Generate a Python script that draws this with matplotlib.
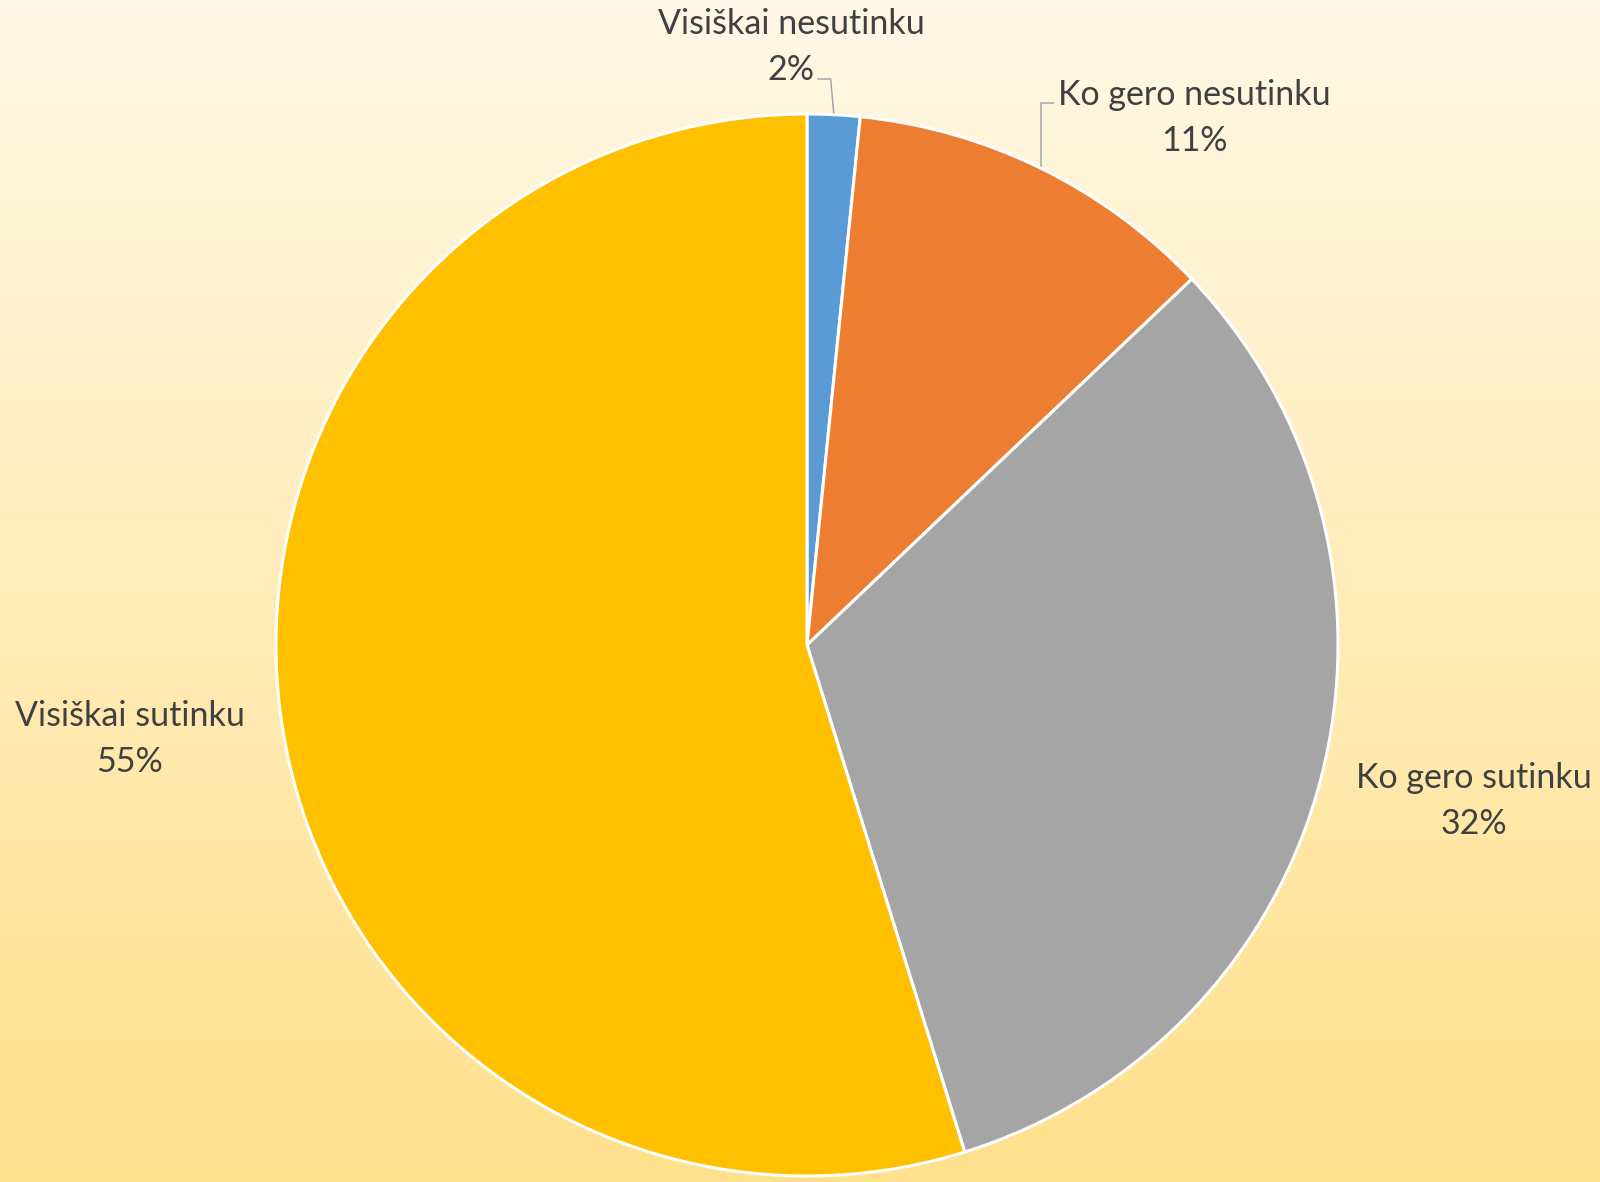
import numpy as np
import matplotlib
matplotlib.use("Agg")
import matplotlib.pyplot as plt
from matplotlib.colors import LinearSegmentedColormap

# data
labels = ["Visiškai nesutinku", "Ko gero nesutinku", "Ko gero sutinku", "Visiškai sutinku"]
shares = [1.6, 11.3, 32.3, 54.8]
pct_text = ["2%", "11%", "32%", "55%"]
colors = ["#5B9BD5", "#ED7D31", "#A5A5A5", "#FFC000"]

# layout (pixel coords, y up)
W, H = 1600, 1182
cx, cy, R = 807, 1182 - 645, 531
label_xy = [(791, 1182 - 24), (1194, 1182 - 95), (1474, 1182 - 778), (130, 1182 - 716)]
leader = [True, True, False, False]
TXT = "#404040"

plt.rcParams["font.family"] = ["Lato", "DejaVu Sans"]

fig = plt.figure(figsize=(16, 11.82), dpi=100)
ax = fig.add_axes([0, 0, 1, 1])

wedges, _ = ax.pie(shares, colors=colors, startangle=90, counterclock=False,
                   center=(cx, cy), radius=R,
                   wedgeprops=dict(edgecolor="white", linewidth=2.2))
for w in wedges:
    w.set_zorder(2)

ax.set_xlim(0, W); ax.set_ylim(0, H)
ax.set_aspect("auto")
ax.axis("off")

# background gradient: light cream at top -> soft yellow at bottom
grad = np.linspace(0, 1, 256).reshape(-1, 1)
cmap = LinearSegmentedColormap.from_list("bg", ["#FFF8E6", "#FFE08C"])
ax.imshow(grad, cmap=cmap, extent=[0, W, 0, H], aspect="auto", zorder=0,
          origin="upper")
ax.set_xlim(0, W); ax.set_ylim(0, H)

for i, w in enumerate(wedges):
    lx, ly = label_xy[i]
    ax.text(lx, ly, labels[i], ha="center", va="center", fontsize=24.5, color=TXT, zorder=3)
    ax.text(lx, ly - 46, pct_text[i], ha="center", va="center", fontsize=24.5, color=TXT, zorder=3)
    if leader[i]:
        mid = np.deg2rad((w.theta1 + w.theta2) / 2)
        ex, ey = cx + R * np.cos(mid), cy + R * np.sin(mid)
        if i == 0:
            ty = ly - 55
            ax.plot([ex, ex - 3, 818], [ey + 2, ty, ty], color="#A6A6A6", lw=1.1, zorder=3)
        else:
            ty = ly - 8
            ax.plot([ex, ex, 1053], [ey + 2, ty, ty], color="#A6A6A6", lw=1.1, zorder=3)

fig.savefig("out.png", dpi=100)
